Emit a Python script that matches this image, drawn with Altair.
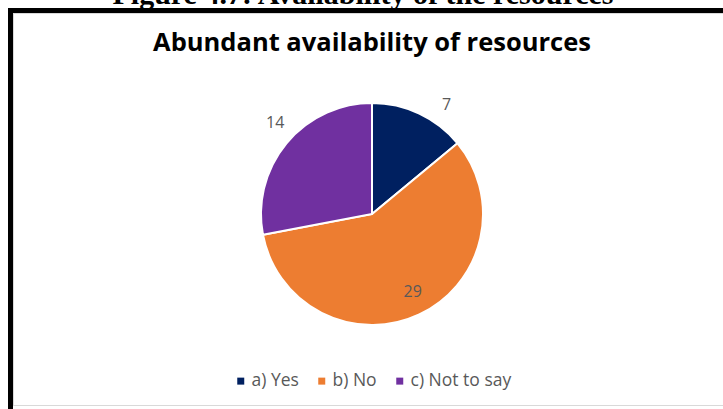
import altair as alt
import pandas as pd

categories = ["a) Yes", "b) No", "c) Not to say"]
counts = [7, 29, 14]
colors = ["#002060", "#ED7D31", "#7030A0"]
chart_title = "Abundant availability of resources"
caption = "Figure 4.7: Availability of the resources"

df = pd.DataFrame({"category": categories, "count": counts})

W, H = 723, 409
CX, CY, R = 372, 214, 111

color_enc = alt.Color(
    "category:N",
    scale=alt.Scale(domain=categories, range=colors),
    legend=alt.Legend(
        title=None, orient="none", legendX=232, legendY=372, direction="horizontal",
        symbolType="square", symbolSize=49, labelFontSize=17.5, labelColor="#595959",
        labelFont="Open Sans", columnPadding=14, symbolStrokeWidth=0, labelOffset=2,
    ),
)

base = alt.Chart(df)

pie = base.mark_arc(stroke="white", strokeWidth=2).encode(
    theta=alt.Theta("count:Q", stack=True),
    color=color_enc,
    order=alt.Order("category:N"),
    x=alt.value(CX), y=alt.value(CY),
    radius=alt.value(R),
)

def label(cat, r, off):
    return base.mark_text(
        fontSize=16, font="Open Sans", color="#595959", thetaOffset=off,
        align="center", baseline="middle",
    ).encode(
        theta=alt.Theta("count:Q", stack=True),
        detail="category:N",
        order=alt.Order("category:N"),
        text="count:Q",
        x=alt.value(CX), y=alt.value(CY),
        radius=alt.value(r),
        opacity=alt.condition(alt.datum.category == cat, alt.value(1), alt.value(0)),
    )

lab_yes = label(categories[0], 132, 0.16)
lab_no = label(categories[1], 88, -0.04)
lab_nts = label(categories[2], 133, 0.065)

title = alt.Chart(pd.DataFrame({"t": [chart_title]})).mark_text(
    font="Open Sans", fontSize=25.5, fontWeight="bold", color="#000000",
    align="center", baseline="alphabetic",
).encode(text="t:N", x=alt.value(372), y=alt.value(51))

cap = alt.Chart(pd.DataFrame({"t": [caption]})).mark_text(
    font="Liberation Serif", fontSize=30, fontWeight="bold", color="#000000",
    align="center", baseline="alphabetic",
).encode(text="t:N", x=alt.value(363), y=alt.value(4))

frame_top = alt.Chart(df).mark_rule(color="#000000", strokeWidth=5).encode(
    x=alt.value(8), x2=alt.value(W), y=alt.value(10.5))
frame_left = alt.Chart(df).mark_rule(color="#000000", strokeWidth=5).encode(
    x=alt.value(10.5), y=alt.value(8), y2=alt.value(H))
inner_bottom = alt.Chart(df).mark_rule(color="#d9d9d9", strokeWidth=1).encode(
    x=alt.value(14), x2=alt.value(W), y=alt.value(405.5))
inner_top = alt.Chart(df).mark_rule(color="#d9d9d9", strokeWidth=1).encode(
    x=alt.value(13), x2=alt.value(W), y=alt.value(13.5))
inner_left = alt.Chart(df).mark_rule(color="#d9d9d9", strokeWidth=1).encode(
    x=alt.value(13.5), y=alt.value(13), y2=alt.value(406))

chart = alt.layer(
    pie, lab_yes, lab_no, lab_nts, title, cap,
    inner_top, inner_left, inner_bottom, frame_top, frame_left,
).properties(
    width=W, height=H, autosize=alt.AutoSizeParams(type="none"), padding=0,
    background="white",
).configure_view(stroke=None)

chart.save("out.html", embed_options={"renderer": "svg", "actions": False})
